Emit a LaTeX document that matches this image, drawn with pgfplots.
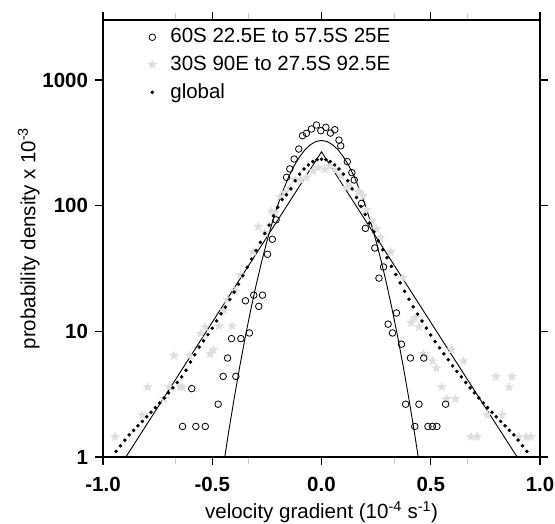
\documentclass[border=0pt]{standalone}
\usepackage{pgfplots}
\pgfplotsset{compat=1.18}
\usepackage{fontspec}
\setmainfont{Liberation Sans}
\definecolor{stargray}{RGB}{222,222,222}
\definecolor{minorgray}{RGB}{200,200,200}

% filled five-point star
\pgfdeclareplotmark{fstar}{%
  \pgfpathmoveto{\pgfpointpolar{90}{\pgfplotmarksize}}%
  \pgfpathlineto{\pgfpointpolar{126}{0.42\pgfplotmarksize}}%
  \pgfpathlineto{\pgfpointpolar{162}{\pgfplotmarksize}}%
  \pgfpathlineto{\pgfpointpolar{198}{0.42\pgfplotmarksize}}%
  \pgfpathlineto{\pgfpointpolar{234}{\pgfplotmarksize}}%
  \pgfpathlineto{\pgfpointpolar{270}{0.42\pgfplotmarksize}}%
  \pgfpathlineto{\pgfpointpolar{306}{\pgfplotmarksize}}%
  \pgfpathlineto{\pgfpointpolar{342}{0.42\pgfplotmarksize}}%
  \pgfpathlineto{\pgfpointpolar{18}{\pgfplotmarksize}}%
  \pgfpathlineto{\pgfpointpolar{54}{0.42\pgfplotmarksize}}%
  \pgfpathclose\pgfusepathqfill}

\begin{document}
\fontsize{20.5}{24}\selectfont
\begin{tikzpicture}
\begin{axis}[
    scale only axis,
    width=437pt, height=437pt,
    ymode=log,
    xmin=-1, xmax=1,
    ymin=1, ymax=3000,
    xtick={-1,-0.5,0,0.5,1},
    xticklabels={-1.0,-0.5,0.0,0.5,1.0},
    minor xtick={-0.6667,-0.3333,0.3333,0.6667},
    ytick={1,10,100,1000},
    yticklabels={1,10,100,1000},
    yminorticks=false,
    tick align=outside,
    major tick length=8pt,
    minor tick length=7pt,
    tick label style={font=\fontsize{20.5}{24}\selectfont\bfseries},
    xticklabel style={yshift=-5pt},
    every major tick/.style={black, line width=1.2pt},
    every minor tick/.style={minorgray, line width=1pt},
    axis line style={line width=1.6pt},
    xlabel={velocity gradient (10\textsuperscript{-4} s\textsuperscript{-1})},
    ylabel={probability density x 10\textsuperscript{-3}},
    xlabel style={at={(rel axis cs:0.5,-0.126)}, anchor=center},
    ylabel style={at={(rel axis cs:-0.17,0.5)}, anchor=center},
    legend cell align=left,
    legend style={draw=none, fill=none, at={(rel axis cs:0.094,0.99)},
        anchor=north west, row sep=6pt,
        /tikz/every odd column/.append style={column sep=11pt},
        font=\fontsize{20.5}{24}\selectfont},
]
\coordinate (sw) at (rel axis cs:0,0);
\coordinate (ne) at (rel axis cs:1,1);

\addlegendimage{only marks, mark=o, mark size=3.3pt, black, line width=0.8pt}
\addlegendentry{60S 22.5E to 57.5S 25E}
\addlegendimage{only marks, mark=fstar, mark size=5.3pt, stargray}
\addlegendentry{30S 90E to 27.5S 92.5E}
\addlegendimage{only marks, mark=*, mark size=1.6pt, black}
\addlegendentry{global}

% 30S 90E to 27.5S 92.5E
\addplot[only marks, mark=fstar, mark size=5.3pt, stargray, forget plot] coordinates {
(-0.945,1.45) (-0.821,2.16) (-0.796,3.6) (-0.72,2.9) (-0.697,3.6)
(-0.675,6.4) (-0.648,3.6) (-0.636,3.6) (-0.604,6.4) (-0.554,9.6)
(-0.533,10.8) (-0.51,6.6) (-0.495,7.1) (-0.47,11) (-0.447,14.7)
(-0.43,17.9) (-0.409,11) (-0.396,20.9) (-0.371,28) (-0.312,43)
(-0.29,68) (-0.259,61) (-0.229,90) (-0.213,88) (-0.19,118)
(-0.168,127) (-0.145,138) (-0.122,162) (-0.095,160) (-0.069,168)
(-0.038,189) (-0.016,200) (0.015,195) (0.038,206) (0.065,190)
(0.091,172) (0.114,139) (0.129,148) (0.167,130) (0.175,127)
(0.19,119) (0.206,93) (0.229,76) (0.251,65) (0.27,56)
(0.316,43) (0.373,26.6) (0.41,11.7) (0.427,12.8) (0.446,10.8)
(0.467,6.6) (0.508,5.8) (0.526,5.1) (0.551,3.6) (0.573,2.9)
(0.612,2.9) (0.596,7.1) (0.649,5.8) (0.684,1.45) (0.712,1.45)
(0.76,2.16) (0.826,2.16) (0.798,4.35) (0.872,4.35) (0.858,3.6)
(0.903,1.45) (0.937,1.45) (0.958,1.45)
};

% fitted curves
\addplot[black, line width=0.9pt, forget plot] coordinates {
(-0.475,0.416) (-0.45,0.825) (-0.425,1.58) (-0.4,2.90) (-0.375,5.15)
(-0.35,8.80) (-0.325,14.5) (-0.3,23.0) (-0.275,35.2) (-0.25,51.9)
(-0.225,73.8) (-0.2,101) (-0.175,133) (-0.15,170) (-0.125,208)
(-0.1,245) (-0.075,279) (-0.05,306) (-0.025,324) (0,330)
(0.025,324) (0.05,306) (0.075,279) (0.1,245) (0.125,208)
(0.15,170) (0.175,133) (0.2,101) (0.225,73.8) (0.25,51.9)
(0.275,35.2) (0.3,23.0) (0.325,14.5) (0.35,8.80) (0.375,5.15)
(0.4,2.90) (0.425,1.58) (0.45,0.825) (0.475,0.416)
};
\addplot[black, line width=0.9pt, forget plot] coordinates {
(-1,0.52) (-0.5,11.8) (0,268) (0.5,11.8) (1,0.52)
};

% 60S 22.5E to 57.5S 25E
\addplot[only marks, mark=o, mark size=3.3pt, black, line width=0.8pt, forget plot] coordinates {
(-0.636,1.75) (-0.594,3.5) (-0.575,1.75) (-0.532,1.75) (-0.473,2.63)
(-0.45,4.38) (-0.43,6.13) (-0.412,8.75) (-0.392,4.38) (-0.369,8.75)
(-0.348,17.5) (-0.33,9.7) (-0.31,19.4) (-0.287,15.8) (-0.27,19.4)
(-0.247,41) (-0.225,54) (-0.208,77) (-0.16,168) (-0.145,196)
(-0.125,235) (-0.104,282) (-0.087,360) (-0.069,376) (-0.046,407)
(-0.023,438) (-0.003,395) (0.02,420) (0.041,378) (0.061,402)
(0.08,332) (0.088,299) (0.118,224) (0.139,183) (0.15,160)
(0.183,104) (0.201,66) (0.244,46) (0.263,26.5) (0.284,32.5)
(0.305,11.4) (0.325,9.7) (0.343,14) (0.366,7.9) (0.385,2.63)
(0.407,6.13) (0.427,1.75) (0.446,2.63) (0.468,6.13) (0.487,1.75)
(0.508,1.75) (0.528,1.75) (0.568,2.63)
};

% global
\addplot[only marks, mark=*, mark size=1.6pt, black, forget plot] coordinates {
(-0.94,1.11) (-0.92,1.23) (-0.90,1.36) (-0.88,1.50) (-0.86,1.63)
(-0.84,1.77) (-0.82,1.92) (-0.80,2.09) (-0.78,2.27) (-0.76,2.47)
(-0.74,2.69) (-0.72,2.95) (-0.70,3.24) (-0.68,3.55) (-0.66,3.92)
(-0.64,4.34) (-0.62,4.9) (-0.60,5.7) (-0.58,6.5) (-0.56,7.5)
(-0.54,8.4) (-0.52,9.4) (-0.50,10.6) (-0.48,12.1) (-0.46,13.8)
(-0.44,15.6) (-0.42,17.9) (-0.40,20.5) (-0.38,23.7) (-0.36,27.7)
(-0.34,32.3) (-0.32,37.5) (-0.30,44) (-0.28,51) (-0.26,60)
(-0.24,70) (-0.22,83) (-0.20,97) (-0.18,112) (-0.16,122)
(-0.14,136) (-0.12,158) (-0.10,178) (-0.08,196) (-0.06,211)
(-0.04,224) (-0.02,232) (0,234) (0.02,232) (0.04,224)
(0.06,211) (0.08,196) (0.10,178) (0.12,158) (0.14,136)
(0.16,116) (0.18,98.6) (0.20,85.1) (0.22,72.8) (0.24,61.8)
(0.26,52.4) (0.28,44.6) (0.30,38.5) (0.32,32.9) (0.34,28.3)
(0.36,24.3) (0.38,20.8) (0.40,18.0) (0.42,15.7) (0.44,13.7)
(0.46,12.1) (0.48,10.6) (0.50,9.33) (0.52,8.28) (0.54,7.40)
(0.56,6.62) (0.58,5.93) (0.60,5.31) (0.62,4.80) (0.64,4.34)
(0.66,3.92) (0.68,3.55) (0.70,3.24) (0.72,2.95) (0.74,2.69)
(0.76,2.47) (0.78,2.27) (0.80,2.09) (0.82,1.92) (0.84,1.77)
(0.86,1.63) (0.88,1.50) (0.90,1.36) (0.92,1.23) (0.94,1.11)
};
\end{axis}
\pgfresetboundingbox
\path[use as bounding box] ([shift={(-103pt,-67pt)}]sw) rectangle ([shift={(15pt,20pt)}]ne);
\end{tikzpicture}
\end{document}
